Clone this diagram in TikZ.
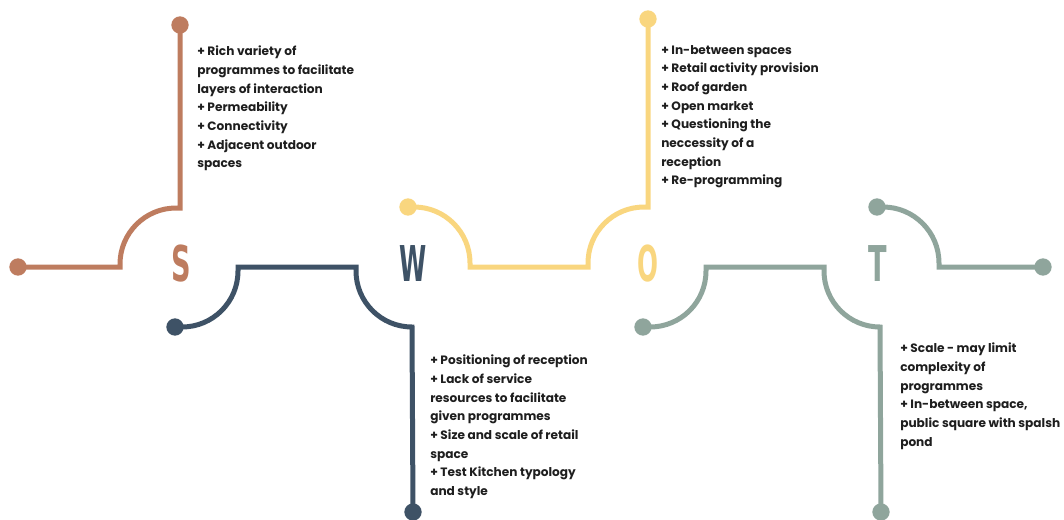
\documentclass[tikz,border=0pt]{standalone}
\usepackage{fontspec}
\setmainfont{Poppins}
\setsansfont{DejaVu Sans}
\usetikzlibrary{positioning}
\definecolor{sbrown}{HTML}{BE7C5F}
\definecolor{wblue}{HTML}{3E5266}
\definecolor{oyellow}{HTML}{F9D67F}
\definecolor{tgrey}{HTML}{8FA59C}
\definecolor{txt}{HTML}{1E1E1E}
\begin{document}
\begin{tikzpicture}[
    x=0.75pt, y=-0.75pt,
    wire/.style={line width=3.75pt},
    dot/.style={circle, fill, inner sep=0pt, minimum size=13pt},
    letter/.style={font=\sffamily\bfseries\fontsize{37}{37}\selectfont},
    points/.style={anchor=north west, inner sep=0pt, align=left, text=txt,
        font=\bfseries\fontsize{9.1}{14}\selectfont}
]
\useasboundingbox (0,0) rectangle (1064,519);

% S
\node[dot, sbrown] (sL) at (18,267) {};
\node[dot, sbrown] (sT) at (180,25) {};
\coordinate (sA) at (120,267);
\coordinate (sB) at (176,208);
\draw[wire, sbrown] (sL.center) -- (sA) -- ++(0,-3) arc[start angle=180, end angle=270, radius=56]
    -- (sB) -- (sB -| sT) -- (sT.center);
\node[letter, text=sbrown] (S) at (181,264) {\scalebox{0.55}[1]{S}};
\node[points] (sText) at (197,46) {+ Rich variety of\\programmes to facilitate\\layers of interaction\\+ Permeability\\+ Connectivity\\+ Adjacent outdoor\\spaces};

% W
\node[dot, wblue] (wL) at (175,327) {};
\node[dot, wblue] (wB) at (413,512) {};
\coordinate (wA) at (238,267);
\coordinate (wC) at (356,267);
\draw[wire, wblue] (wL.center) -- ++(7,0) arc[start angle=90, end angle=0, radius=56]
    -- (wA) -- (wC) -- ++(0,4) arc[start angle=180, end angle=90, radius=56]
    -- (wB.center);
\node[letter, text=wblue] (W) at (413,264) {\scalebox{0.5}[1]{W}};
\node[points] (wText) at (430,355) {+ Positioning of reception\\+ Lack of service\\resources to facilitate\\given programmes\\+ Size and scale of retail\\space\\+ Test Kitchen typology\\and style};

% O
\node[dot, oyellow] (oL) at (408,207) {};
\node[dot, oyellow] (oT) at (648,19) {};
\coordinate (oA) at (470,267);
\coordinate (oC) at (588,267);
\draw[wire, oyellow] (oL.center) -- ++(6,0) arc[start angle=-90, end angle=0, radius=56]
    -- (oA) -- (oC) -- ++(0,-4) arc[start angle=180, end angle=270, radius=56]
    -- ++(4,0) -- (oT.center);
\node[letter, text=oyellow] (O) at (648,264) {\scalebox{0.5}[1]{O}};
\node[points] (oText) at (661,45) {+ In-between spaces\\+ Retail activity provision\\+ Roof garden\\+ Open market\\+ Questioning the\\neccessity of a\\reception\\+ Re-programming};

% T
\node[dot, tgrey] (tL) at (643,327) {};
\node[dot, tgrey] (tB) at (881,512) {};
\node[dot, tgrey] (tU) at (877,207) {};
\node[dot, tgrey] (tR) at (1043,267) {};
\coordinate (tA) at (706,267);
\coordinate (tC) at (824,267);
\draw[wire, tgrey] (tL.center) -- ++(7,0) arc[start angle=90, end angle=0, radius=56]
    -- (tA) -- (tC) -- ++(0,4) arc[start angle=180, end angle=90, radius=56]
    -- (tB.center);
\draw[wire, tgrey] (tU.center) -- ++(6,0) arc[start angle=-90, end angle=0, radius=56]
    -- ++(0,4) -- (tR.center);
\node[letter, text=tgrey] (T) at (878,264) {\scalebox{0.55}[1]{T}};
\node[points] (tText) at (900,343) {+ Scale - may limit\\complexity of\\programmes\\+ In-between space,\\public square with spalsh\\pond};

\end{tikzpicture}
\end{document}
